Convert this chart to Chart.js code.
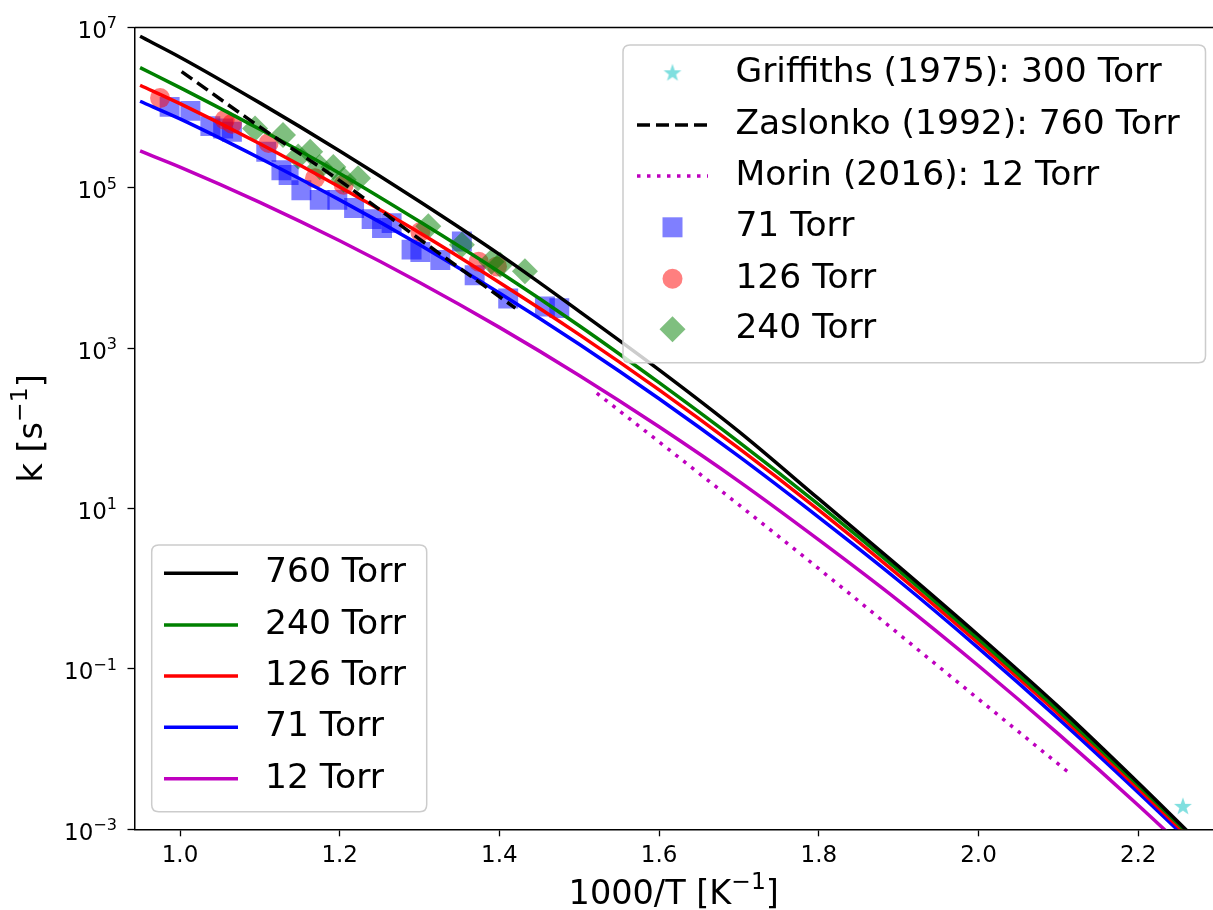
<!DOCTYPE html>
<html>
<head>
<meta charset="utf-8">
<script src="https://cdn.jsdelivr.net/npm/chart.js@4.4.0/dist/chart.umd.min.js"></script>
<style>
  html, body { margin: 0; padding: 0; background: #fff; overflow: hidden; }
  #wrap { width: 1213px; height: 910px; }
  canvas { display: block; }
</style>
</head>
<body>
<div id="wrap"><canvas id="mycanvas" width="1213" height="910"></canvas></div>
<script>
// model curves, 1000/T and log10(k)
var xGrid = [0.95, 1.0, 1.1, 1.2, 1.3, 1.4, 1.5, 1.6, 1.7, 1.8, 1.9, 2.0, 2.1, 2.2, 2.3];
var logK760 = [6.89, 6.63, 6.06, 5.46, 4.83, 4.17, 3.46, 2.73, 1.96, 1.12, 0.28, -0.58, -1.47, -2.42, -3.40];
var logK240 = [6.50, 6.25, 5.73, 5.18, 4.58, 3.95, 3.28, 2.57, 1.83, 1.05, 0.23, -0.63, -1.52, -2.45, -3.42];
var logK126 = [6.28, 6.05, 5.55, 5.01, 4.44, 3.82, 3.17, 2.48, 1.75, 0.98, 0.17, -0.68, -1.56, -2.49, -3.45];
var logK71 = [6.08, 5.86, 5.37, 4.85, 4.29, 3.69, 3.05, 2.37, 1.65, 0.89, 0.10, -0.74, -1.62, -2.54, -3.49];
var logK12 = [5.46, 5.26, 4.82, 4.34, 3.82, 3.26, 2.66, 2.02, 1.34, 0.61, -0.15, -0.96, -1.81, -2.70, -3.63];

// literature
var xZas = [1.002, 1.10, 1.20, 1.30, 1.42];
var logKZas = [6.45, 5.76, 5.09, 4.36, 3.50];
var xMorin = [1.522, 1.65, 1.80, 1.95, 2.114];
var logKMorin = [2.44, 1.44, 0.25, -0.97, -2.30];
var xGriff = [2.256];
var logKGriff = [-2.72];

// measurements
var x71 = [0.987, 1.013, 1.038, 1.054, 1.065, 1.108, 1.127, 1.136, 1.152, 1.175, 1.197, 1.218, 1.240, 1.253, 1.265, 1.290, 1.301, 1.326, 1.353, 1.369, 1.411, 1.457, 1.475];
var logK71pts = [6.01, 5.96, 5.77, 5.74, 5.70, 5.45, 5.22, 5.16, 4.97, 4.85, 4.85, 4.75, 4.61, 4.50, 4.56, 4.23, 4.20, 4.10, 4.33, 3.91, 3.62, 3.52, 3.50];
var x126 = [0.975, 1.056, 1.065, 1.111, 1.169, 1.205, 1.301, 1.374, 1.397];
var logK126pts = [6.12, 5.85, 5.80, 5.56, 5.12, 5.04, 4.45, 4.08, 4.02];
var x240 = [1.094, 1.129, 1.148, 1.163, 1.175, 1.192, 1.205, 1.223, 1.311, 1.353, 1.390, 1.401, 1.432];
var logK240pts = [5.74, 5.66, 5.39, 5.45, 5.26, 5.26, 5.10, 5.12, 4.52, 4.29, 4.08, 4.04, 3.96];

// axes
var xTicks = [1.0, 1.2, 1.4, 1.6, 1.8, 2.0, 2.2];
var xTickLabels = ['1.0', '1.2', '1.4', '1.6', '1.8', '2.0', '2.2'];
var yTickExp = [-3, -1, 1, 3, 5, 7];
var yTickSup = ['\u22123', '\u22121', '1', '3', '5', '7'];

var FONT = '"DejaVu Sans", "Liberation Sans", sans-serif';

function pts(xs, ls) {
  var out = [];
  for (var i = 0; i < xs.length; i++) out.push({x: xs[i], y: Math.pow(10, ls[i])});
  return out;
}

// filled 5-point star for Griffiths
var star = document.createElement('canvas');
star.width = 24; star.height = 24;
(function() {
  var c = star.getContext('2d');
  var R = 9.4, r = 3.8;
  c.fillStyle = 'rgba(0,191,191,0.5)';
  c.beginPath();
  for (var i = 0; i < 10; i++) {
    var a = -Math.PI / 2 + i * Math.PI / 5;
    var rr = i % 2 ? r : R;
    c.lineTo(12 + rr * Math.cos(a), 12 + rr * Math.sin(a));
  }
  c.closePath();
  c.fill();
})();

function lineSet(label, xs, ls, color, dash, order) {
  return {
    label: label, data: pts(xs, ls), showLine: true, pointRadius: 0,
    borderColor: color, borderWidth: 3.5, borderDash: dash || [],
    fill: false, cubicInterpolationMode: 'monotone', clip: 0, order: order
  };
}
function markSet(label, xs, ls, style, radius, color, order) {
  return {
    label: label, data: pts(xs, ls), showLine: false, pointStyle: style,
    pointRadius: radius, pointHoverRadius: radius, backgroundColor: color,
    borderWidth: 0, order: order
  };
}

var datasets = [
  lineSet('760 Torr', xGrid, logK760, '#000000', null, 1),
  lineSet('240 Torr', xGrid, logK240, '#008000', null, 2),
  lineSet('126 Torr', xGrid, logK126, '#ff0000', null, 3),
  lineSet('71 Torr', xGrid, logK71, '#0000ff', null, 4),
  lineSet('12 Torr', xGrid, logK12, '#bf00bf', null, 5),
  lineSet('Zaslonko (1992): 760 Torr', xZas, logKZas, '#000000', [13, 6], 0),
  lineSet('Morin (2016): 12 Torr', xMorin, logKMorin, '#bf00bf', [3.5, 6.5], 0),
  markSet('Griffiths (1975): 300 Torr', xGriff, logKGriff, star, 9, 'rgba(0,191,191,0.5)', 6),
  markSet('71 Torr', x71, logK71pts, 'rect', 14.1, 'rgba(0,0,255,0.5)', 9),
  markSet('126 Torr', x126, logK126pts, 'circle', 10, 'rgba(255,0,0,0.5)', 8),
  markSet('240 Torr', x240, logK240pts, 'rectRot', 13, 'rgba(0,128,0,0.5)', 7)
];

var legendTop = [
  {text: 'Griffiths (1975): 300 Torr', mark: 'star'},
  {text: 'Zaslonko (1992): 760 Torr', line: '#000000', dash: [13, 6]},
  {text: 'Morin (2016): 12 Torr', line: '#bf00bf', dash: [3.5, 6.5]},
  {text: '71 Torr', mark: 'rect', color: 'rgba(0,0,255,0.5)'},
  {text: '126 Torr', mark: 'circle', color: 'rgba(255,0,0,0.5)'},
  {text: '240 Torr', mark: 'diamond', color: 'rgba(0,128,0,0.5)'}
];
var legendBottom = [
  {text: '760 Torr', line: '#000000'},
  {text: '240 Torr', line: '#008000'},
  {text: '126 Torr', line: '#ff0000'},
  {text: '71 Torr', line: '#0000ff'},
  {text: '12 Torr', line: '#bf00bf'}
];

function roundBox(c, x0, y0, x1, y1, r) {
  c.beginPath();
  c.moveTo(x0 + r, y0);
  c.lineTo(x1 - r, y0); c.quadraticCurveTo(x1, y0, x1, y0 + r);
  c.lineTo(x1, y1 - r); c.quadraticCurveTo(x1, y1, x1 - r, y1);
  c.lineTo(x0 + r, y1); c.quadraticCurveTo(x0, y1, x0, y1 - r);
  c.lineTo(x0, y0 + r); c.quadraticCurveTo(x0, y0, x0 + r, y0);
  c.closePath();
}

function drawLegend(c, items, box, hx0, hx1, tx, rows) {
  c.save();
  roundBox(c, box[0], box[1], box[2], box[3], 7);
  c.fillStyle = 'rgba(255,255,255,0.8)';
  c.fill();
  c.strokeStyle = '#cccccc';
  c.lineWidth = 1.5;
  c.stroke();
  var mx = (hx0 + hx1) / 2;
  for (var i = 0; i < items.length; i++) {
    var it = items[i], y = rows[i];
    if (it.line) {
      c.save();
      c.strokeStyle = it.line; c.lineWidth = 3.5;
      c.setLineDash(it.dash || []);
      c.beginPath(); c.moveTo(hx0, y); c.lineTo(hx1, y); c.stroke();
      c.restore();
    } else if (it.mark === 'star') {
      c.drawImage(star, mx - 12, y - 12);
    } else {
      c.fillStyle = it.color;
      c.beginPath();
      if (it.mark === 'rect') c.rect(mx - 10, y - 10, 20, 20);
      else if (it.mark === 'circle') c.arc(mx, y, 10, 0, Math.PI * 2);
      else { c.moveTo(mx, y - 13); c.lineTo(mx + 13, y); c.lineTo(mx, y + 13); c.lineTo(mx - 13, y); c.closePath(); }
      c.fill();
    }
    c.fillStyle = '#000';
    c.font = '34.5px ' + FONT;
    c.textAlign = 'left';
    c.textBaseline = 'middle';
    c.fillText(it.text, tx, y);
  }
  c.restore();
}

// text with a mathtext-like superscript: pre + sup + post, baseline at y
function supText(c, pre, sup, post, x, y, size, align) {
  var small = size * 0.7;
  c.font = size + 'px ' + FONT;
  var w1 = c.measureText(pre).width;
  var w3 = c.measureText(post).width;
  c.font = small + 'px ' + FONT;
  var w2 = c.measureText(sup).width;
  var total = w1 + w2 + w3;
  var x0 = align === 'right' ? x - total : (align === 'center' ? x - total / 2 : x);
  c.textAlign = 'left';
  c.textBaseline = 'alphabetic';
  c.font = size + 'px ' + FONT;
  c.fillText(pre, x0, y);
  c.fillText(post, x0 + w1 + w2, y);
  c.font = small + 'px ' + FONT;
  c.fillText(sup, x0 + w1, y - size * 0.42);
}

var framePlugin = {
  id: 'frameAndLegends',
  afterDraw: function(chart) {
    var c = chart.ctx, a = chart.chartArea;
    c.save();
    c.strokeStyle = '#000';
    c.lineWidth = 1.5;
    c.beginPath();
    c.moveTo(a.left, a.top);
    c.lineTo(a.right, a.top);
    c.stroke();

    // y tick labels 10^n
    c.fillStyle = '#000';
    var ys = chart.scales.y;
    for (var i = 0; i < yTickExp.length; i++) {
      var py = ys.getPixelForValue(Math.pow(10, yTickExp[i]));
      supText(c, '10', yTickSup[i], '', 117, py + 10.4, 23, 'right');
    }
    // axis titles
    supText(c, '1000/T [K', '\u22121', ']', (a.left + a.right) / 2, 903.5, 33.5, 'center');
    c.save();
    c.translate(41.5, (a.top + a.bottom) / 2);
    c.rotate(-Math.PI / 2);
    supText(c, 'k [s', '\u22121', ']', 0, 0, 33.5, 'center');
    c.restore();
    c.restore();

    drawLegend(c, legendTop, [623, 45, 1205.5, 362.7], 637, 708, 735.4,
      [73.3, 125, 176, 227.3, 278.7, 329.3]);
    drawLegend(c, legendBottom, [151.7, 545, 426.7, 811.7], 164, 238, 265,
      [573.3, 625, 676, 727.3, 778.7]);
  }
};

var ctx = document.getElementById('mycanvas');
var chart = new Chart(ctx, {
  type: 'scatter',
  data: { datasets: datasets },
  options: {
    responsive: false,
    animation: false,
    devicePixelRatio: 1,
    layout: { autoPadding: false, padding: { top: 27.5, right: 0, left: 0, bottom: 0 } },
    plugins: { legend: { display: false }, tooltip: { enabled: false } },
    scales: {
      x: {
        type: 'linear', min: 0.943, max: 2.2937,
        afterBuildTicks: function(s) { s.ticks = xTicks.map(function(v) { return {value: v}; }); },
        afterFit: function(s) { s.height = 80.7; s.paddingLeft = 0; s.paddingRight = 0; },
        grid: { display: true, drawOnChartArea: false, drawTicks: true, tickLength: 7, tickWidth: 1.3, tickColor: '#000' },
        border: { display: true, color: '#000', width: 1.5 },
        ticks: {
          color: '#000', padding: 6, maxRotation: 0, autoSkip: false,
          font: { family: FONT, size: 23 },
          callback: function(v) { var i = xTicks.indexOf(v); return i >= 0 ? xTickLabels[i] : ''; }
        },
        title: { display: false }
      },
      y: {
        type: 'logarithmic', min: 1e-3, max: 1e7,
        afterBuildTicks: function(s) { s.ticks = yTickExp.map(function(e) { return {value: Math.pow(10, e)}; }); },
        afterFit: function(s) { s.width = 134.5; s.paddingTop = 0; s.paddingBottom = 0; },
        grid: { display: true, drawOnChartArea: false, drawTicks: true, tickLength: 7, tickWidth: 1.3, tickColor: '#000' },
        border: { display: true, color: '#000', width: 1.5 },
        ticks: {
          color: '#000', padding: 12, autoSkip: false,
          font: { family: FONT, size: 23 },
          callback: function() { return ''; }
        },
        title: { display: false }
      }
    }
  },
  plugins: [framePlugin]
});
</script>
</body>
</html>
